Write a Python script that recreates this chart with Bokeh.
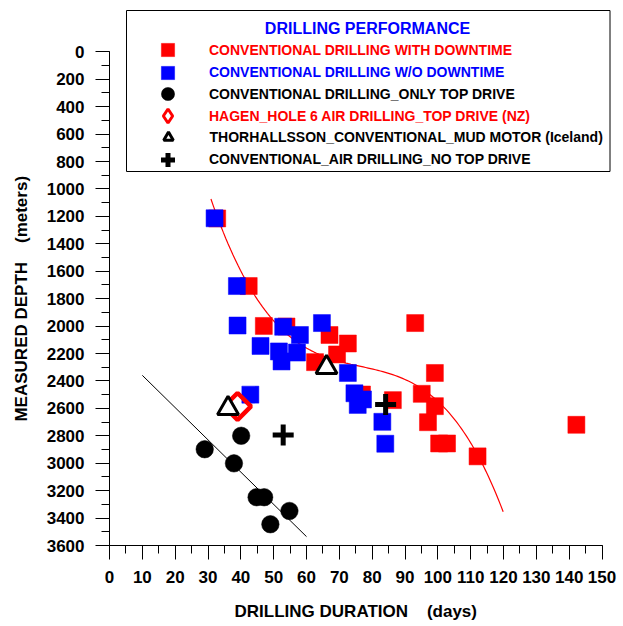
import numpy as np
from bokeh.plotting import figure
from bokeh.models import (Range1d, SingleIntervalTicker, Legend, LegendItem, Label,
                          BoxAnnotation, ColumnDataSource)
from bokeh.embed import file_html
from bokeh.resources import INLINE

FONT = "Liberation Sans"
RED = "#FF0000"
BLUE = "#0000FF"
NBSP = "\u00a0"

# ---------------- data (days, measured depth in m) ----------------
red_days = [32.8, 42.4, 47.0, 53.9, 67.0, 72.6, 69.3, 62.6, 76.9, 86.3, 93.1,
            99.1, 95.1, 99.1, 97.0, 100.4, 102.8, 112.1, 142.2]
red_depth = [1215, 1708, 1999, 2003, 2065, 2127, 2207, 2263, 2499, 2540, 1978,
             2342, 2494, 2584, 2701, 2856, 2856, 2950, 2720]

blue_days = [32.0, 38.8, 39.0, 52.9, 64.7, 58.0, 46.0, 51.6, 57.1, 52.4, 42.9,
             72.6, 74.6, 77.2, 75.6, 83.1, 84.0]
blue_depth = [1214, 1708, 1996, 2005, 1978, 2065, 2145, 2185, 2193, 2258, 2500,
              2342, 2490, 2535, 2575, 2698, 2858]

topdrive_days = [40.1, 29.0, 37.9, 44.8, 47.1, 54.8, 49.0]
topdrive_depth = [2800, 2898, 3001, 3248, 3248, 3348, 3445]

hagen_days = [39.0]
hagen_depth = [2586]

thor_days = [36.1, 66.1]
thor_depth = [2600, 2302]

air_days = [52.9, 84.1]
air_depth = [2794, 2572]

# red trend curve
curve_days = [30.9, 34.7, 41.5, 43.8, 47.9, 50.9, 57.0, 58.0, 66.2, 73.3, 79.3,
              85.4, 92.5, 94.6, 100.7, 109.8, 118.9, 119.9]
curve_depth = [1041, 1279, 1692, 1813, 1947, 2020, 2118, 2118, 2178, 2239, 2263,
               2324, 2433, 2457, 2616, 2907, 3272, 3316]

# black trend line range
line_days = [10, 60]

x_axis_max = 150
y_axis_max = 3600

legend_labels = [
    "CONVENTIONAL DRILLING WITH DOWNTIME",
    "CONVENTIONAL DRILLING W/O DOWNTIME",
    "CONVENTIONAL DRILLING_ONLY TOP DRIVE",
    "HAGEN_HOLE 6 AIR DRILLING_TOP DRIVE (NZ)",
    "THORHALLSSON_CONVENTIONAL_MUD MOTOR (Iceland)",
    "CONVENTIONAL_AIR DRILLING_NO TOP DRIVE",
]
legend_title = "DRILLING PERFORMANCE"
x_title = "DRILLING DURATION" + NBSP * 4 + "(days)"
y_title = "MEASURED DEPTH" + NBSP * 4 + "(meters)"

# ---------------- layout (pixels) ----------------
FR_LEFT = 109          # frame left edge (x = 0)
FR_TOP = 9             # frame top (room for the legend box)
FR_BOTTOM = 545        # frame bottom (depth = 3600)
FR_RIGHT = 611
AX_X_END = 601.5       # pixel of x = 150
AX_Y_ZERO = 51.3       # pixel of depth = 0

frame_w = FR_RIGHT - FR_LEFT
frame_h = FR_BOTTOM - FR_TOP
px_per_day = (AX_X_END - FR_LEFT) / x_axis_max
px_per_m = (FR_BOTTOM - AX_Y_ZERO) / y_axis_max
x_end = frame_w / px_per_day
y_top = -(AX_Y_ZERO - FR_TOP) / px_per_m

p = figure(frame_width=frame_w, frame_height=frame_h,
           min_border_left=FR_LEFT, min_border_right=620 - FR_RIGHT,
           min_border_top=FR_TOP, min_border_bottom=624 - FR_BOTTOM,
           x_range=Range1d(0, x_end), y_range=Range1d(y_axis_max, y_top),
           output_backend="svg", toolbar_location=None)
p.outline_line_color = None
p.xgrid.visible = False
p.ygrid.visible = False
p.background_fill_color = "white"

p.xaxis.ticker = SingleIntervalTicker(interval=10, num_minor_ticks=2)
p.yaxis.ticker = SingleIntervalTicker(interval=200, num_minor_ticks=2)
p.xaxis.bounds = (0, x_axis_max)
p.yaxis.bounds = (0, y_axis_max)

for ax in (p.xaxis[0], p.yaxis[0]):
    ax.axis_line_color = "black"
    ax.axis_line_width = 1
    ax.major_tick_line_color = "black"
    ax.minor_tick_line_color = "black"
    ax.major_tick_in = 0
    ax.minor_tick_in = 0
    ax.major_tick_out = 14
    ax.minor_tick_out = 8
    ax.major_label_text_font = FONT
    ax.major_label_text_font_style = "bold"
    ax.major_label_text_font_size = "17px"
    ax.major_label_text_color = "black"
    ax.axis_label_text_font = FONT
    ax.axis_label_text_font_style = "bold"
    ax.axis_label_text_font_size = "17px"
    ax.axis_label_text_color = "black"

# trailing no-break spaces keep the titles centred on the drawn axis span
p.xaxis.axis_label = x_title + NBSP * 2
p.yaxis.axis_label = y_title + NBSP * 9
p.xaxis.major_label_standoff = 11
p.xaxis.axis_label_standoff = 16
p.yaxis.major_label_standoff = 11
p.yaxis.axis_label_standoff = 13

# trend lines
c3 = np.polyfit(curve_days, curve_depth, 3)
cx = np.linspace(min(curve_days), max(curve_days), 120)
p.line(cx, np.polyval(c3, cx), line_color=RED, line_width=1.2)

c1 = np.polyfit(topdrive_days, topdrive_depth, 1)
lx = np.array(line_days, dtype=float)
p.line(lx, np.polyval(c1, lx), line_color="black", line_width=1)

# markers
r_red = p.scatter(red_days, red_depth, marker="square", size=17,
                  fill_color=RED, line_color=RED, line_width=0.5)
r_blue = p.scatter(blue_days, blue_depth, marker="square", size=17,
                   fill_color=BLUE, line_color=BLUE, line_width=0.5)
r_circ = p.scatter(topdrive_days, topdrive_depth, marker="circle", size=17.5,
                   fill_color="black", line_color="black", line_width=0.5)
p.scatter(hagen_days, hagen_depth, marker="square", angle=np.pi / 4, size=19,
          fill_color=None, line_color=RED, line_width=4.5)
r_tri = p.scatter(thor_days, thor_depth, marker="triangle", size=21,
                  fill_color="white", line_color="black", line_width=3)
r_plus = p.scatter(air_days, air_depth, marker="cross", size=21,
                   line_color="black", line_width=5)

# legend-only glyph for the diamond (a NaN point, never drawn in the plot)
dummy_src = ColumnDataSource(data=dict(x=[float("nan")], y=[float("nan")]))
r_diam_leg = p.scatter("x", "y", source=dummy_src, marker="diamond", size=10,
                       fill_color=None, line_color=RED, line_width=3)

# ---------------- legend ----------------
MARK_X = 167.5
TEXT_X = 209.3
item_y = [49.5, 72.0, 93.5, 115.5, 136.5, 159.0]
item_g = [33, 33, 33, 35, 24, 35]
item_color = [RED, BLUE, "black", RED, "black", "black"]
item_rend = [r_red, r_blue, r_circ, r_diam_leg, r_tri, r_plus]

for lab, rend, col, yc, g in zip(legend_labels, item_rend, item_color, item_y, item_g):
    leg = Legend(items=[LegendItem(label=lab, renderers=[rend], index=0)],
                 location=(MARK_X - g / 2 - FR_LEFT, FR_BOTTOM - (yc + g / 2)),
                 glyph_width=g, glyph_height=g, label_height=g,
                 label_standoff=int(round(TEXT_X - (MARK_X + g / 2))),
                 padding=0, margin=0, spacing=0,
                 border_line_color=None, background_fill_alpha=0,
                 label_text_color=col, label_text_font=FONT,
                 label_text_font_style="bold", label_text_font_size="14px")
    p.add_layout(leg, "center")

p.add_layout(Label(x=367 - FR_LEFT, y=FR_BOTTOM - 28.3, x_units="screen", y_units="screen",
                   text=legend_title, text_align="center", text_baseline="middle",
                   text_color=BLUE, text_font=FONT, text_font_style="bold",
                   text_font_size="16px"))

p.add_layout(BoxAnnotation(left=126 - FR_LEFT, right=609.5 - FR_LEFT,
                           bottom=FR_BOTTOM - 171, top=FR_BOTTOM - 10,
                           left_units="screen", right_units="screen",
                           top_units="screen", bottom_units="screen",
                           fill_alpha=0, fill_color=None,
                           line_color="black", line_width=1, line_alpha=1))

open("out.html", "w").write(file_html(p, INLINE))
